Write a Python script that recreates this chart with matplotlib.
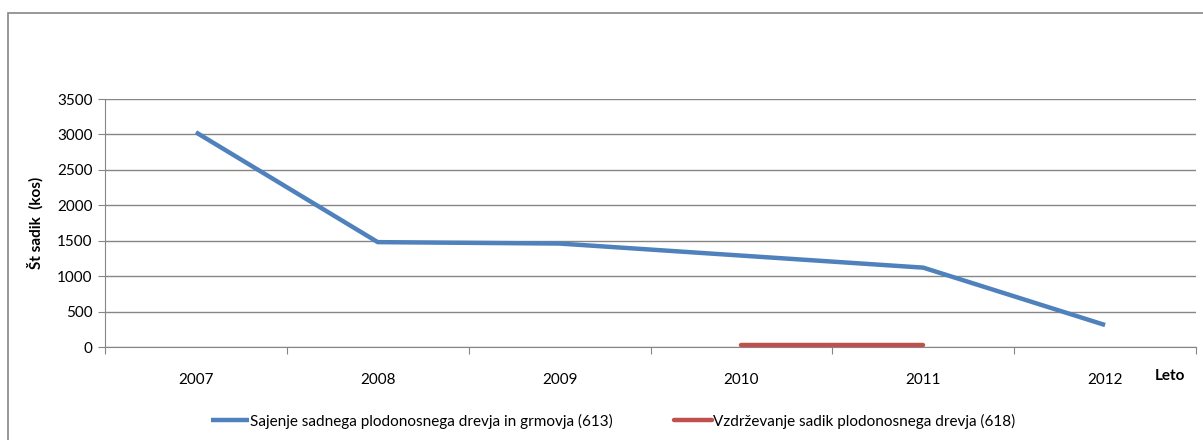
#!/usr/bin/env python3
import numpy as np
import matplotlib
matplotlib.use("Agg")
import matplotlib.pyplot as plt
from matplotlib.patches import Rectangle

years = ["2007", "2008", "2009", "2010", "2011", "2012"]
sajenje = [3030, 1480, 1460, 1290, 1120, 310]
vzdrzevanje = [None, None, None, 25, 25, None]

label_saj = "Sajenje sadnega plodonosnega drevja in grmovja (613)"
label_vzd = "Vzdrževanje sadik plodonosnega drevja (618)"

plt.rcParams['font.family'] = ['Lato', 'DejaVu Sans']
GRID = '#868686'

fig = plt.figure(figsize=(12.03, 4.40), dpi=100)
ax = fig.add_axes([105/1203, 1-347/440, (1196-105)/1203, (347-99)/440])

x = np.arange(len(years)) + 0.5
ax.plot(x, sajenje, color='#4F81BD', lw=3.2, solid_capstyle='butt',
        label=label_saj, zorder=3)
vx = [xi for xi, v in zip(x, vzdrzevanje) if v is not None]
vy = [v for v in vzdrzevanje if v is not None]
ax.plot(vx, vy, color='#C0504D', lw=3.2, solid_capstyle='round',
        label=label_vzd, zorder=3)

ax.set_xlim(0, len(years))
ax.set_ylim(0, 3500)
ax.set_yticks(np.arange(0, 3501, 500))
ax.yaxis.grid(True, color=GRID, lw=1)
ax.set_axisbelow(True)

# tick marks between categories, labels at the category centres
ax.set_xticks(np.arange(0, len(years)+1), minor=False)
ax.set_xticklabels([])
ax.set_xticks(x, minor=True)
ax.set_xticklabels(years, minor=True)
ax.tick_params(axis='x', which='major', direction='out', length=5, color=GRID)
ax.tick_params(axis='x', which='minor', length=0, pad=19, labelsize=11)
ax.tick_params(axis='y', direction='out', length=5, color=GRID, labelsize=11, pad=4)

for s in ['top', 'right']:
    ax.spines[s].set_visible(False)
for s in ['left', 'bottom']:
    ax.spines[s].set_color(GRID)

ax.set_ylabel("Št sadik  (kos)", fontsize=11, fontweight='bold', labelpad=10)
fig.text(1170/1203, 1-376/440, "Leto", fontsize=11, fontweight='bold',
         ha='center', va='center')

fig.legend(loc='center', bbox_to_anchor=(613/1203, 1-421/440), ncol=2,
           frameon=False, fontsize=11, handlelength=2.5, handletextpad=0.05,
           columnspacing=4)

fig.patches.append(Rectangle((8/1203, -0.05), 1.1, 1-13/440+0.05,
                             transform=fig.transFigure, fill=False,
                             edgecolor=GRID, lw=1.2))

fig.savefig("out.png", dpi=100)
